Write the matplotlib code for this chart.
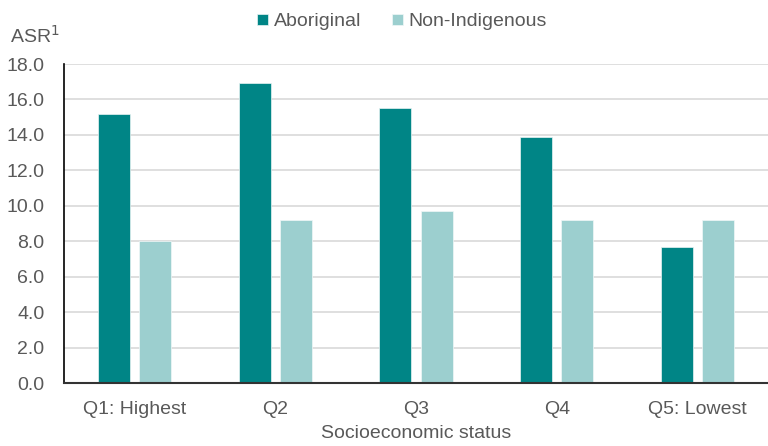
import matplotlib
matplotlib.use("Agg")
import matplotlib.pyplot as plt
import numpy as np
from matplotlib.ticker import FormatStrFormatter

categories = ["Q1: Highest", "Q2", "Q3", "Q4", "Q5: Lowest"]
aboriginal = [15.2, 16.9, 15.5, 13.9, 7.7]
non_indigenous = [8.0, 9.2, 9.7, 9.2, 9.2]
series_names = ["Aboriginal", "Non-Indigenous"]
colors = ["#008586", "#9CCFCF"]
yticks = [0, 2, 4, 6, 8, 10, 12, 14, 16, 18]

plt.rcParams['font.family'] = ['Liberation Sans', 'DejaVu Sans']
text_color = "#595959"
fs = 14

fig = plt.figure(figsize=(7.68, 4.46), dpi=100)
ax = fig.add_axes([64/768, 1-383/446, 1-64/768, (383-64)/446])

x = np.arange(len(categories))
w = 0.227
off = 0.146
b1 = ax.bar(x - off, aboriginal, w, color=colors[0], label=series_names[0], zorder=3,
            edgecolor="#e8f4f4", linewidth=0.5)
b2 = ax.bar(x + off, non_indigenous, w, color=colors[1], label=series_names[1], zorder=3,
            edgecolor="#f0f8f8", linewidth=0.5)

ax.set_xlim(-0.5, len(categories) - 0.5)
ax.set_ylim(0, 18)
ax.set_yticks(yticks)
ax.yaxis.set_major_formatter(FormatStrFormatter('%.1f'))
ax.set_xticks(x)
ax.set_xticklabels(categories)
ax.tick_params(axis='both', length=0, labelsize=fs, colors=text_color)
ax.tick_params(axis='x', pad=13)
ax.tick_params(axis='y', pad=14)
ax.grid(axis='y', color="#d9d9d9", linewidth=1.2, zorder=0)
ax.set_axisbelow(True)
for s in ["top", "right"]:
    ax.spines[s].set_visible(False)
ax.spines["left"].set_color("#000000")
ax.spines["left"].set_linewidth(1.2)
ax.spines["bottom"].set_color("#333333")
ax.spines["bottom"].set_linewidth(1.5)
ax.spines["left"].set_zorder(4)
ax.spines["bottom"].set_zorder(4)

ax.set_xlabel("Socioeconomic status", fontsize=fs, color=text_color, labelpad=5)

fig.text(10/768, 1-36/446, "ASR$^{1}$", fontsize=fs, color=text_color, va="center", ha="left")

fig.legend(handles=[b1, b2], labels=series_names, loc="center", bbox_to_anchor=(402/768, 1-22/446),
           ncol=2, frameon=False, fontsize=fs, labelcolor=text_color, handlelength=0.55,
           handleheight=0.55, handletextpad=0.3, columnspacing=1.6)

fig.savefig("out.png", dpi=100)
